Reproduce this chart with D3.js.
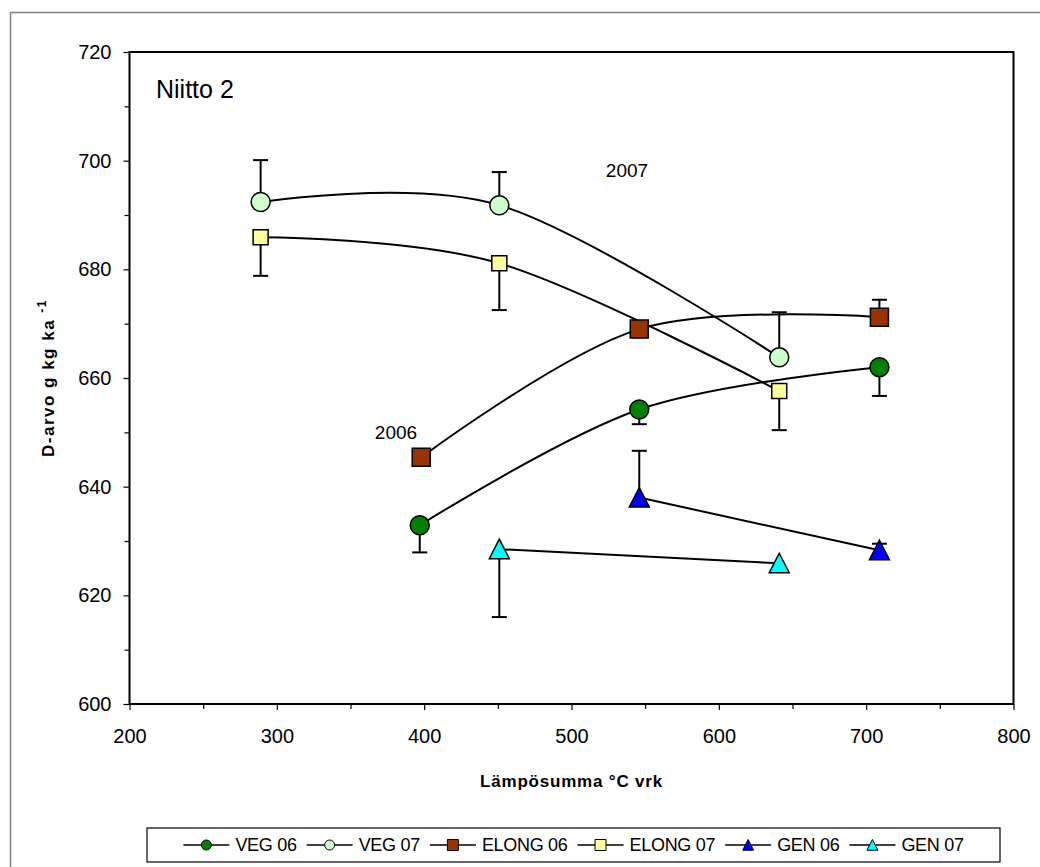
<!DOCTYPE html>
<html>
<head>
<meta charset="utf-8">
<script src="https://cdn.jsdelivr.net/npm/d3@7"></script>
<style>
  body { margin: 0; background: #fff; }
  text { font-family: Arial, 'Liberation Sans', sans-serif; fill: #000; }
</style>
</head>
<body>
<div id="chart"></div>
<script>
// axis ticks
const xTicks = [200, 300, 400, 500, 600, 700, 800];
const yTicks = [600, 620, 640, 660, 680, 700, 720];

// series (x = Lämpösumma, y = D-arvo, err = one sided error bar, + up / - down)
const veg06X = [397, 546, 709];
const veg06Y = [632.9, 654.2, 662.0];
const veg06Err = [-5.0, -2.7, -5.3];

const veg07X = [289, 451, 641];
const veg07Y = [692.4, 691.8, 663.8];
const veg07Err = [7.7, 6.1, 8.3];

const elong06X = [398, 546, 709];
const elong06Y = [645.4, 669.0, 671.2];
const elong06Err = [0, 0, 3.2];

const elong07X = [289, 451, 641];
const elong07Y = [685.9, 681.1, 657.6];
const elong07Err = [-7.1, -8.6, -7.2];

const gen06X = [546, 709];
const gen06Y = [638.0, 628.3];
const gen06Err = [8.6, 1.2];

const gen07X = [451, 641];
const gen07Y = [628.5, 625.9];
const gen07Err = [-12.5, 0];

const seriesNames = ['VEG 06', 'VEG 07', 'ELONG 06', 'ELONG 07', 'GEN 06', 'GEN 07'];

const series = [
  { name: seriesNames[0], xs: veg06X, ys: veg06Y, err: veg06Err, shape: 'circle', fill: '#008000', size: 19 },
  { name: seriesNames[1], xs: veg07X, ys: veg07Y, err: veg07Err, shape: 'circle', fill: '#ccffcc', size: 19 },
  { name: seriesNames[2], xs: elong06X, ys: elong06Y, err: elong06Err, shape: 'square', fill: '#993300', size: 18 },
  { name: seriesNames[3], xs: elong07X, ys: elong07Y, err: elong07Err, shape: 'square', fill: '#ffff99', size: 15 },
  { name: seriesNames[4], xs: gen06X, ys: gen06Y, err: gen06Err, shape: 'triangle', fill: '#0000ff', size: 20 },
  { name: seriesNames[5], xs: gen07X, ys: gen07Y, err: gen07Err, shape: 'triangle', fill: '#00ffff', size: 20 }
];

const W = 1040, H = 867;
const plot = { left: 129.5, right: 1013.5, top: 52, bottom: 704 };

const svg = d3.select('#chart')
  .append('svg')
  .attr('width', W)
  .attr('height', H);

// outer chart frame
svg.append('rect')
  .attr('x', 10.5).attr('y', 12.5)
  .attr('width', W).attr('height', H)
  .attr('fill', 'none')
  .attr('stroke', '#808080')
  .attr('stroke-width', 1.5);

const x = d3.scaleLinear().domain([200, 800]).range([plot.left, plot.right]);
const y = d3.scaleLinear().domain([600, 720]).range([plot.bottom, plot.top]);

// minor ticks
svg.append('g')
  .attr('transform', `translate(0,${plot.bottom})`)
  .call(d3.axisBottom(x).tickValues(d3.range(250, 800, 100)).tickSize(5).tickFormat(''))
  .call(g => g.select('.domain').remove())
  .call(g => g.selectAll('line').attr('stroke-width', 1.2));
svg.append('g')
  .attr('transform', `translate(${plot.left},0)`)
  .call(d3.axisLeft(y).tickValues(d3.range(610, 720, 20)).tickSize(5).tickFormat(''))
  .call(g => g.select('.domain').remove())
  .call(g => g.selectAll('line').attr('stroke-width', 1.2));

// major axes
const xAxis = svg.append('g')
  .attr('transform', `translate(0,${plot.bottom})`)
  .call(d3.axisBottom(x).tickValues(xTicks).tickSize(6).tickSizeOuter(0).tickPadding(19));
const yAxis = svg.append('g')
  .attr('transform', `translate(${plot.left},0)`)
  .call(d3.axisLeft(y).tickValues(yTicks).tickSize(6).tickSizeOuter(0).tickPadding(12));

[xAxis, yAxis].forEach(a => {
  a.select('.domain').remove();
  a.selectAll('line').attr('stroke-width', 1.2);
  a.selectAll('text').style('font-size', '20px').style('font-family', 'Arial, Liberation Sans, sans-serif');
});

// plot frame
svg.append('rect')
  .attr('x', plot.left).attr('y', plot.top)
  .attr('width', plot.right - plot.left)
  .attr('height', plot.bottom - plot.top)
  .attr('fill', 'none')
  .attr('stroke', '#000')
  .attr('stroke-width', 2);

// axis titles
svg.append('text')
  .attr('x', (plot.left + plot.right) / 2)
  .attr('y', 787)
  .attr('text-anchor', 'middle')
  .style('font-size', '17px')
  .style('font-weight', 'bold')
  .style('letter-spacing', '0.8px')
  .text('Lämpösumma °C vrk');

const yTitle = svg.append('text')
  .attr('transform', `translate(54,${(plot.top + plot.bottom) / 2}) rotate(-90)`)
  .attr('text-anchor', 'middle')
  .style('font-size', '17px')
  .style('font-weight', 'bold')
  .style('letter-spacing', '1.5px');
yTitle.append('tspan').text('D-arvo g kg ka ');
yTitle.append('tspan').attr('dy', -8).style('font-size', '12px').text('-1');

// annotations
svg.append('text').attr('x', 156).attr('y', 98).style('font-size', '25px').text('Niitto 2');
svg.append('text').attr('x', 627).attr('y', 177).attr('text-anchor', 'middle').style('font-size', '19px').text('2007');
svg.append('text').attr('x', 396).attr('y', 439).attr('text-anchor', 'middle').style('font-size', '19px').text('2006');

const line = d3.line()
  .x(d => x(d[0]))
  .y(d => y(d[1]))
  .curve(d3.curveCatmullRom.alpha(0));

const symbolPath = (shape, size) => {
  const s = size / 2;
  if (shape === 'square') return `M${-s},${-s}H${s}V${s}H${-s}Z`;
  if (shape === 'triangle') return `M0,${-s}L${s},${s * 0.95}L${-s},${s * 0.95}Z`;
  return d3.arc()({ innerRadius: 0, outerRadius: s, startAngle: 0, endAngle: 2 * Math.PI });
};

// lines
series.forEach(s => {
  const pts = s.xs.map((v, i) => [v, s.ys[i]]);
  svg.append('path')
    .datum(pts)
    .attr('fill', 'none')
    .attr('stroke', '#000')
    .attr('stroke-width', 2)
    .attr('d', line);
});

// error bars
series.forEach(s => {
  s.xs.forEach((v, i) => {
    if (!s.err[i]) return;
    const cx = x(v);
    const y0 = y(s.ys[i]);
    const y1 = y(s.ys[i] + s.err[i]);
    svg.append('line')
      .attr('x1', cx).attr('x2', cx).attr('y1', y0).attr('y2', y1)
      .attr('stroke', '#000').attr('stroke-width', 2);
    svg.append('line')
      .attr('x1', cx - 7.5).attr('x2', cx + 7.5).attr('y1', y1).attr('y2', y1)
      .attr('stroke', '#000').attr('stroke-width', 2);
  });
});

// markers
series.forEach(s => {
  svg.append('g')
    .selectAll('path')
    .data(s.xs.map((v, i) => [v, s.ys[i]]))
    .join('path')
    .attr('transform', d => `translate(${x(d[0])},${y(d[1])})`)
    .attr('d', symbolPath(s.shape, s.size))
    .attr('fill', s.fill)
    .attr('stroke', '#000')
    .attr('stroke-width', 1.5);
});

// legend: items packed one after another, then centred in the box
const legend = { left: 147, right: 1000, top: 828, bottom: 862 };
svg.append('rect')
  .attr('x', legend.left).attr('y', legend.top)
  .attr('width', legend.right - legend.left)
  .attr('height', legend.bottom - legend.top)
  .attr('fill', '#fff')
  .attr('stroke', '#000')
  .attr('stroke-width', 1.2);

const legY = (legend.top + legend.bottom) / 2;
const lineLen = 46, gapIn = 6, gapOut = 10;
const legG = svg.append('g');
let cursor = 0;
series.forEach((s, i) => {
  const g = legG.append('g').attr('transform', `translate(${cursor},${legY})`);
  g.append('line').attr('x1', 0).attr('x2', lineLen).attr('stroke', '#000').attr('stroke-width', 1.5);
  g.append('path')
    .attr('transform', `translate(${lineLen / 2},0)`)
    .attr('d', symbolPath(s.shape, s.shape === 'circle' ? 10 : 11))
    .attr('fill', s.fill)
    .attr('stroke', '#000')
    .attr('stroke-width', 1);
  const t = g.append('text')
    .attr('x', lineLen + gapIn)
    .attr('dy', '0.36em')
    .style('font-size', '18px')
    .style('letter-spacing', '-0.3px')
    .text(s.name);
  cursor += lineLen + gapIn + t.node().getComputedTextLength() + gapOut;
});
const used = cursor - gapOut;
legG.attr('transform', `translate(${legend.left + (legend.right - legend.left - used) / 2},0)`);
</script>
</body>
</html>
